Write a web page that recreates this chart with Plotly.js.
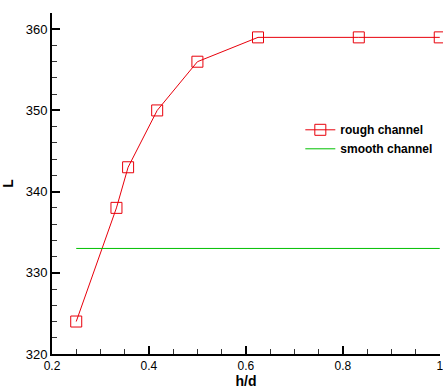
<!DOCTYPE html>
<html><head><meta charset="utf-8">
<script src="https://cdn.plot.ly/plotly-3.0.1.min.js"></script>
<style>html,body{margin:0;padding:0;background:#fff}#chart{width:443px;height:389px}</style>
</head><body><div id="chart"></div>
<script>
var roughHD = [0.25, 0.333, 0.357, 0.417, 0.5, 0.625, 0.833, 1.0];
var roughL = [324, 338, 343, 350, 356, 359, 359, 359];
var smoothHD = [0.25, 1.0];
var smoothL = [333, 333];
var xTickVals = [0.2, 0.4, 0.6, 0.8, 1.0];
var xTickText = ['0.2', '0.4', '0.6', '0.8', '1'];
var traces = [
  {x: roughHD, y: roughL, mode: 'lines+markers', name: 'rough channel',
   line: {color: '#e8000b', width: 1},
   marker: {symbol: 'square-open', size: 11, color: '#e8000b', line: {width: 1}},
   cliponaxis: false},
  {x: smoothHD, y: smoothL, mode: 'lines', name: 'smooth channel',
   line: {color: '#00c000', width: 1}}
];
var font = {family: 'Liberation Sans, Arial, sans-serif', size: 12, color: '#000'};
var layout = {
  width: 443, height: 389,
  margin: {l: 52, r: 3, t: 13, b: 35},
  paper_bgcolor: '#fff', plot_bgcolor: '#fff',
  font: font,
  showlegend: true,
  legend: {x: 0.64, y: 0.70, xanchor: 'left', yanchor: 'top', bgcolor: 'rgba(0,0,0,0)',
           font: {family: 'Liberation Sans, Arial, sans-serif', size: 12, color: '#000', weight: 'bold'},
           tracegroupgap: 0},
  xaxis: {range: [0.2, 1.0005], tickmode: 'array', tickvals: xTickVals, ticktext: xTickText,
          showgrid: false, zeroline: false, ticklabeloverflow: 'allow',
          showline: true, linecolor: '#000', linewidth: 2, ticks: 'inside', ticklen: 8, tickwidth: 2, tickcolor: '#000',
          minor: {dtick: 0.05, tick0: 0.2, ticks: 'inside', ticklen: 5, tickwidth: 1, tickcolor: '#333', showgrid: false},
          tickfont: {size: 12},
          title: {text: 'h/d', font: {size: 14, weight: 'bold'}, standoff: 0}},
  yaxis: {range: [320, 362], dtick: 10, tick0: 320, showgrid: false, zeroline: false,
          showline: true, linecolor: '#000', linewidth: 2, ticks: 'inside', ticklen: 8, tickwidth: 2, tickcolor: '#000',
          minor: {dtick: 2, ticks: 'inside', ticklen: 5, tickwidth: 1, tickcolor: '#333', showgrid: false},
          tickfont: {size: 13},
          title: {text: 'L', font: {size: 14, weight: 'bold'}, standoff: 12}}
};
Plotly.newPlot('chart', traces, layout, {displayModeBar: false, staticPlot: true});
</script></body></html>
